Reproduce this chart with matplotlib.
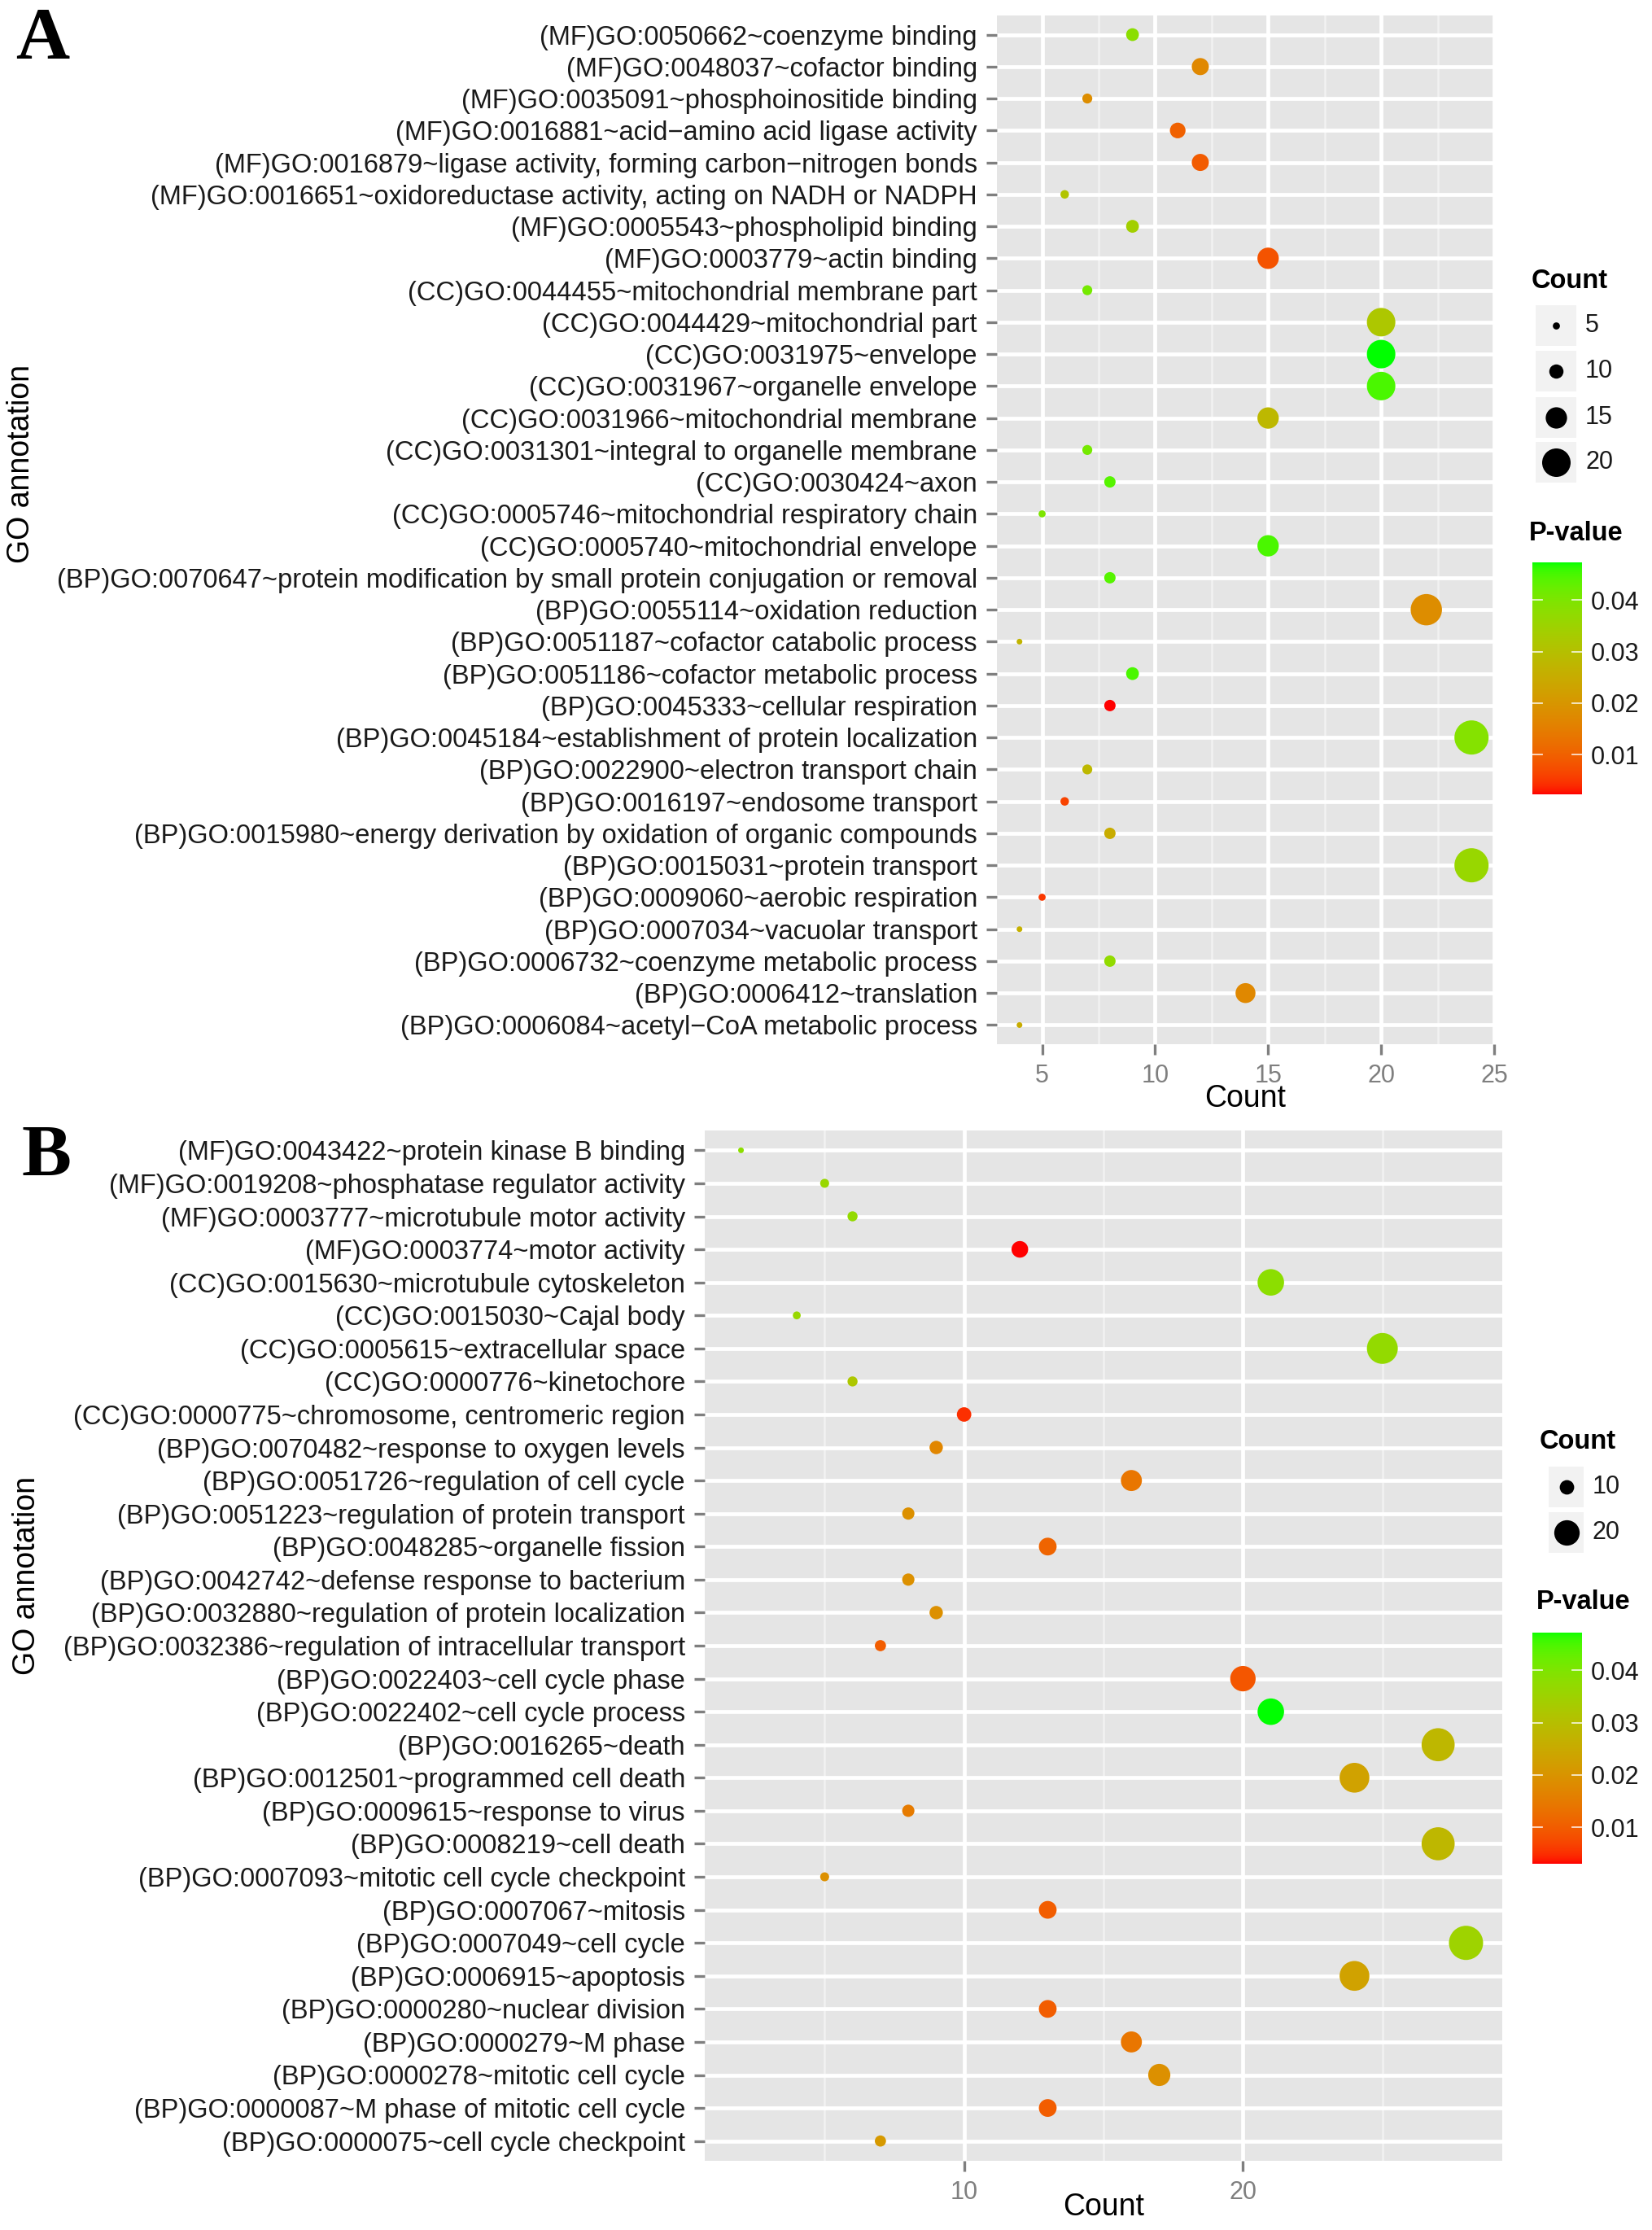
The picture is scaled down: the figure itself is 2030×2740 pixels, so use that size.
import numpy as np
import matplotlib
matplotlib.use("Agg")
import matplotlib.pyplot as plt
from matplotlib.colors import ListedColormap, Normalize
from matplotlib.patches import Rectangle

plt.rcParams['font.family'] = ['Liberation Sans', 'DejaVu Sans']

# ---------------- data ----------------
labels_a = [
    "(MF)GO:0050662~coenzyme binding",
    "(MF)GO:0048037~cofactor binding",
    "(MF)GO:0035091~phosphoinositide binding",
    "(MF)GO:0016881~acid\u2212amino acid ligase activity",
    "(MF)GO:0016879~ligase activity, forming carbon\u2212nitrogen bonds",
    "(MF)GO:0016651~oxidoreductase activity, acting on NADH or NADPH",
    "(MF)GO:0005543~phospholipid binding",
    "(MF)GO:0003779~actin binding",
    "(CC)GO:0044455~mitochondrial membrane part",
    "(CC)GO:0044429~mitochondrial part",
    "(CC)GO:0031975~envelope",
    "(CC)GO:0031967~organelle envelope",
    "(CC)GO:0031966~mitochondrial membrane",
    "(CC)GO:0031301~integral to organelle membrane",
    "(CC)GO:0030424~axon",
    "(CC)GO:0005746~mitochondrial respiratory chain",
    "(CC)GO:0005740~mitochondrial envelope",
    "(BP)GO:0070647~protein modification by small protein conjugation or removal",
    "(BP)GO:0055114~oxidation reduction",
    "(BP)GO:0051187~cofactor catabolic process",
    "(BP)GO:0051186~cofactor metabolic process",
    "(BP)GO:0045333~cellular respiration",
    "(BP)GO:0045184~establishment of protein localization",
    "(BP)GO:0022900~electron transport chain",
    "(BP)GO:0016197~endosome transport",
    "(BP)GO:0015980~energy derivation by oxidation of organic compounds",
    "(BP)GO:0015031~protein transport",
    "(BP)GO:0009060~aerobic respiration",
    "(BP)GO:0007034~vacuolar transport",
    "(BP)GO:0006732~coenzyme metabolic process",
    "(BP)GO:0006412~translation",
    "(BP)GO:0006084~acetyl\u2212CoA metabolic process",
]
counts_a = [9, 12, 7, 11, 12, 6, 9, 15, 7, 20, 20, 20, 15, 7, 8, 5, 15,
            8, 22, 4, 9, 8, 24, 7, 6, 8, 24, 5, 4, 8, 14, 4]
pvals_a = [0.038, 0.017, 0.018, 0.010, 0.009, 0.031, 0.034, 0.008, 0.041,
           0.032, 0.0473, 0.045, 0.028, 0.041, 0.044, 0.040, 0.045, 0.044,
           0.018, 0.027, 0.045, 0.0023, 0.039, 0.028, 0.006, 0.025, 0.036,
           0.005, 0.026, 0.037, 0.017, 0.025]

labels_b = [
    "(MF)GO:0043422~protein kinase B binding",
    "(MF)GO:0019208~phosphatase regulator activity",
    "(MF)GO:0003777~microtubule motor activity",
    "(MF)GO:0003774~motor activity",
    "(CC)GO:0015630~microtubule cytoskeleton",
    "(CC)GO:0015030~Cajal body",
    "(CC)GO:0005615~extracellular space",
    "(CC)GO:0000776~kinetochore",
    "(CC)GO:0000775~chromosome, centromeric region",
    "(BP)GO:0070482~response to oxygen levels",
    "(BP)GO:0051726~regulation of cell cycle",
    "(BP)GO:0051223~regulation of protein transport",
    "(BP)GO:0048285~organelle fission",
    "(BP)GO:0042742~defense response to bacterium",
    "(BP)GO:0032880~regulation of protein localization",
    "(BP)GO:0032386~regulation of intracellular transport",
    "(BP)GO:0022403~cell cycle phase",
    "(BP)GO:0022402~cell cycle process",
    "(BP)GO:0016265~death",
    "(BP)GO:0012501~programmed cell death",
    "(BP)GO:0009615~response to virus",
    "(BP)GO:0008219~cell death",
    "(BP)GO:0007093~mitotic cell cycle checkpoint",
    "(BP)GO:0007067~mitosis",
    "(BP)GO:0007049~cell cycle",
    "(BP)GO:0006915~apoptosis",
    "(BP)GO:0000280~nuclear division",
    "(BP)GO:0000279~M phase",
    "(BP)GO:0000278~mitotic cell cycle",
    "(BP)GO:0000087~M phase of mitotic cell cycle",
    "(BP)GO:0000075~cell cycle checkpoint",
]
counts_b = [2, 5, 6, 12, 21, 4, 25, 6, 10, 9, 16, 8, 13, 8, 9, 7, 20, 21,
            27, 24, 8, 27, 5, 13, 28, 24, 13, 16, 17, 13, 7]
pvals_b = [0.038, 0.036, 0.037, 0.0030, 0.038, 0.036, 0.037, 0.032, 0.005,
           0.017, 0.014, 0.019, 0.011, 0.019, 0.019, 0.010, 0.009, 0.0472,
           0.028, 0.023, 0.015, 0.028, 0.019, 0.010, 0.035, 0.023, 0.010,
           0.014, 0.019, 0.010, 0.021]

xticks_a = [5, 10, 15, 20, 25]
xticks_b = [10, 20]
size_legend_a = [5, 10, 15, 20]
size_legend_b = [10, 20]
cbar_ticks = [0.01, 0.02, 0.03, 0.04]

# ---------------- colour scale (Lab interpolation red -> green) ----------------
M = np.array([[0.4124564, 0.3575761, 0.1804375],
              [0.2126729, 0.7151522, 0.0721750],
              [0.0193339, 0.1191920, 0.9503041]])
WHITE = np.array([0.95047, 1.0, 1.08883])


def rgb2lab(rgb):
    rgb = np.asarray(rgb, float)
    lin = np.where(rgb <= 0.04045, rgb / 12.92, ((rgb + 0.055) / 1.055) ** 2.4)
    xyz = M @ lin / WHITE
    f = np.where(xyz > 216 / 24389, np.cbrt(xyz), (24389 / 27 * xyz + 16) / 116)
    return np.array([116 * f[1] - 16, 500 * (f[0] - f[1]), 200 * (f[1] - f[2])])


def lab2rgb(lab):
    L, a, b = lab
    fy = (L + 16) / 116
    fx = fy + a / 500
    fz = fy - b / 200
    f = np.array([fx, fy, fz])
    xyz = np.where(f ** 3 > 216 / 24389, f ** 3, (116 * f - 16) / (24389 / 27)) * WHITE
    lin = np.linalg.solve(M, xyz)
    lin = np.clip(lin, 0, 1)
    rgb = np.where(lin <= 0.0031308, 12.92 * lin, 1.055 * lin ** (1 / 2.4) - 0.055)
    return np.clip(rgb, 0, 1)


lab_lo = rgb2lab([1, 0, 0])
lab_hi = rgb2lab([0, 1, 0])
cmap = ListedColormap([lab2rgb(lab_lo + t * (lab_hi - lab_lo)) for t in np.linspace(0, 1, 256)])

# ---------------- figure ----------------
W, H, DPI = 2031, 2740, 100
PX = 72 / DPI
fig = plt.figure(figsize=(W / DPI, H / DPI), dpi=DPI)


def px_axes(l, t, r, b):
    return fig.add_axes([l / W, 1 - b / H, (r - l) / W, (b - t) / H])


def msize(c, cmin, cmax):
    d = 7.0 * (1 + 5 * (np.asarray(c, float) - cmin) / (cmax - cmin))
    return (d * PX) ** 2


def panel(ax, labels, counts, pvals, xlim, major, minor):
    n = len(labels)
    y = np.arange(n)[::-1]
    ax.set_facecolor('#E5E5E5')
    for s in ax.spines.values():
        s.set_visible(False)
    ax.set_xlim(*xlim)
    ax.set_ylim(-0.6, n - 0.4)
    ax.set_xticks(major)
    ax.set_xticks(minor, minor=True)
    ax.set_yticks(y)
    ax.set_yticklabels(labels)
    ax.set_axisbelow(True)
    ax.grid(which='major', axis='both', color='white', lw=3.4)
    ax.grid(which='minor', axis='x', color='#F2F2F2', lw=1.8)
    cmin, cmax = min(counts), max(counts)
    norm = Normalize(min(pvals), max(pvals))
    ax.scatter(counts, y, s=msize(counts, cmin, cmax), c=pvals, cmap=cmap,
               norm=norm, linewidths=0, zorder=3)
    ax.tick_params(axis='both', which='major', length=9.4, width=2.4,
                   color='#7F7F7F', pad=7.9)
    ax.tick_params(axis='y', labelsize=23.5, labelcolor='#1A1A1A')
    ax.tick_params(axis='x', labelsize=22, labelcolor='#7F7F7F')
    ax.tick_params(which='minor', length=0)
    return norm, cmin, cmax


ax_a = px_axes(1225, 19, 1836, 1283)
norm_a, cmin_a, cmax_a = panel(ax_a, labels_a, counts_a, pvals_a, (3, 25),
                               xticks_a, [7.5, 12.5, 17.5, 22.5])
ax_b = px_axes(866, 1389, 1846, 2655)
norm_b, cmin_b, cmax_b = panel(ax_b, labels_b, counts_b, pvals_b, (0.7, 29.3),
                               xticks_b, [5, 15, 25])

# axis titles
fig.text(1530 / W, 1 - 1350 / H, "Count", fontsize=27, ha='center', va='center')
fig.text(1356 / W, 1 - 2712 / H, "Count", fontsize=27, ha='center', va='center')
fig.text(26 / W, 1 - 570 / H, "GO annotation", fontsize=27, rotation=90,
         ha='center', va='center')
fig.text(33 / W, 1 - 1936 / H, "GO annotation", fontsize=27, rotation=90,
         ha='center', va='center')

# panel letters
fig.text(19 / W, 1 - 72 / H, "A", fontsize=66, fontweight='bold',
         family=['Liberation Serif', 'DejaVu Serif'], ha='left', va='baseline')
fig.text(26 / W, 1 - 1445 / H, "B", fontsize=66, fontweight='bold',
         family=['Liberation Serif', 'DejaVu Serif'], ha='left', va='baseline')

# ---------------- legends ----------------
lax = fig.add_axes([0, 0, 1, 1])
lax.set_xlim(0, W)
lax.set_ylim(H, 0)
lax.axis('off')
lax.patch.set_alpha(0)


def size_legend(title_xy, keys_y, box_x0, box_x1, lab_x, values, cmin, cmax):
    lax.text(title_xy[0], title_xy[1], "Count", fontsize=23.5, fontweight='bold',
             ha='left', va='center', color='black')
    cx = (box_x0 + box_x1) / 2
    for v, yy in zip(values, keys_y):
        lax.add_patch(Rectangle((box_x0, yy - 25), box_x1 - box_x0, 50,
                                facecolor='#F2F2F2', edgecolor='none'))
        lax.scatter([cx], [yy], s=msize(v, cmin, cmax), color='black',
                    linewidths=0, zorder=3)
        lax.text(lab_x, yy, str(v), fontsize=22, ha='left', va='center',
                 color='#1A1A1A')


def pvalue_legend(title_xy, l, t, r, b, norm):
    lax.text(title_xy[0], title_xy[1], "P-value", fontsize=23.5, fontweight='bold',
             ha='left', va='center', color='black')
    cax = px_axes(l, t, r, b)
    vmin, vmax = norm.vmin, norm.vmax
    grad = np.linspace(vmin, vmax, 256)[:, None]
    cax.imshow(grad, aspect='auto', cmap=cmap, norm=norm, origin='lower',
               extent=[0, 1, vmin, vmax])
    cax.set_xlim(0, 1)
    cax.set_ylim(vmin, vmax)
    for tv in cbar_ticks:
        cax.plot([0, 0.2], [tv, tv], color='white', lw=1.3, alpha=0.8)
        cax.plot([0.8, 1], [tv, tv], color='white', lw=1.3, alpha=0.8)
    for s in cax.spines.values():
        s.set_visible(False)
    cax.set_xticks([])
    cax.yaxis.tick_right()
    cax.set_yticks(cbar_ticks)
    cax.set_yticklabels(["%.2f" % v for v in cbar_ticks])
    cax.tick_params(axis='y', length=0, pad=7.9, labelsize=22, labelcolor='#1A1A1A')


size_legend((1882, 345), [400, 456, 513, 568], 1887, 1937, 1948,
            size_legend_a, cmin_a, cmax_a)
pvalue_legend((1879, 655), 1883, 691, 1944, 976, norm_a)

size_legend((1892, 1771), [1827, 1883], 1903, 1946, 1957,
            size_legend_b, cmin_b, cmax_b)
pvalue_legend((1888, 1968), 1883, 2006, 1944, 2290, norm_b)

fig.savefig("out.png", dpi=DPI, facecolor='white')
